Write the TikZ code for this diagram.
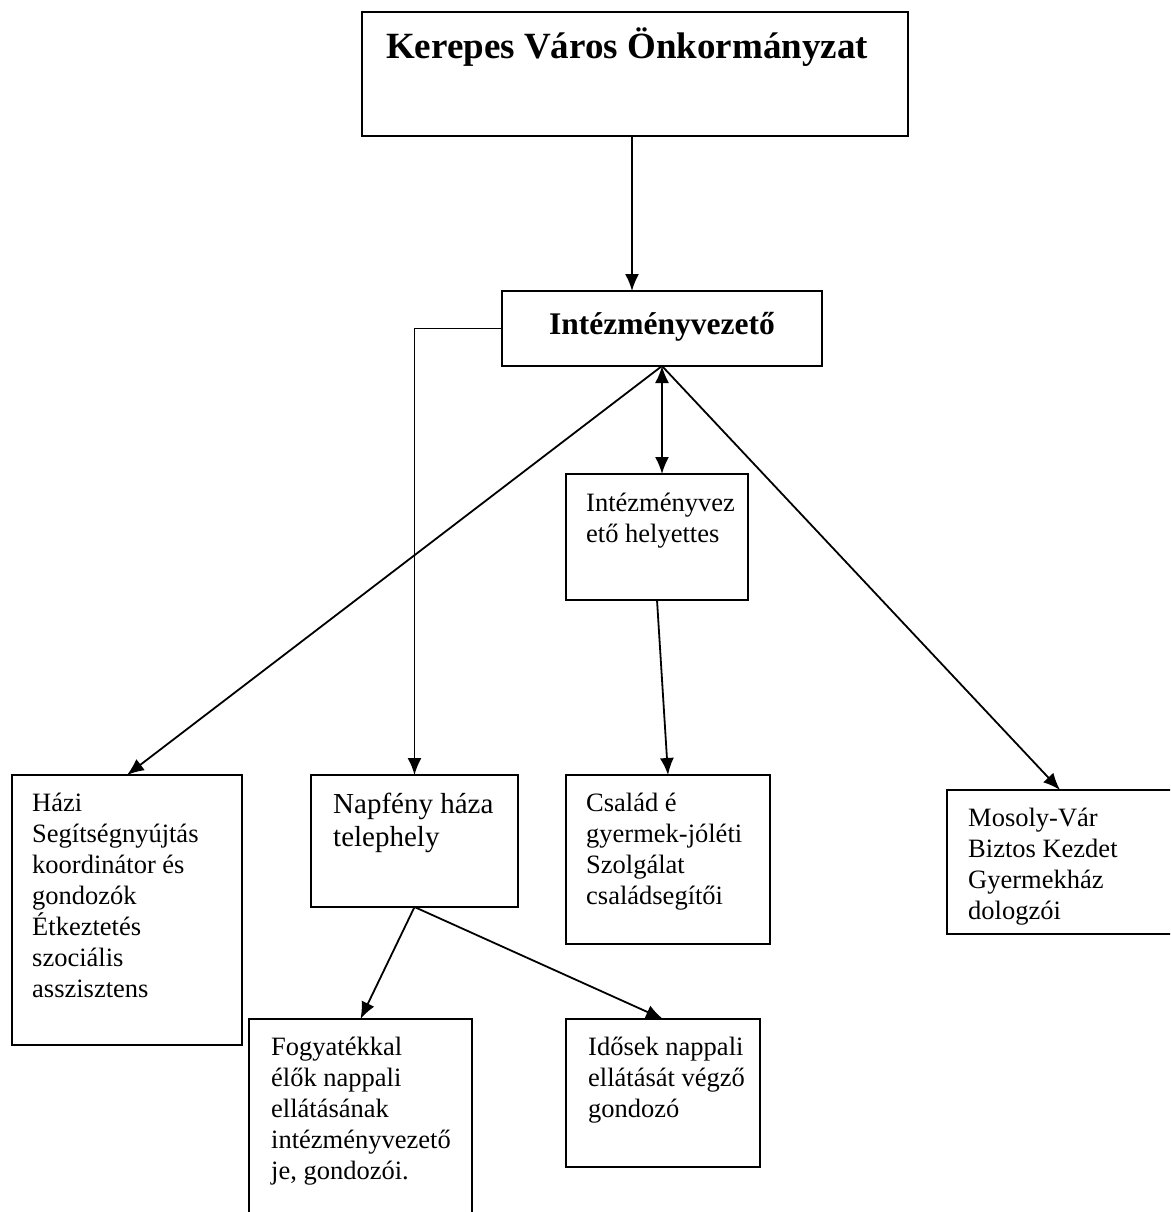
\documentclass[tikz,border=0pt]{standalone}
\usepackage{fontspec}
\setmainfont{Liberation Serif}
\usetikzlibrary{arrows.meta}
\tikzset{
  box/.style={draw, line width=2pt, inner sep=0pt, outer sep=0pt, anchor=north west},
  txt/.style={anchor=base west, align=left, inner sep=0pt, font=\fontsize{26.5}{31}\selectfont},
  conn/.style={line width=1.8pt, -{Latex[length=17pt,width=14pt]}},
}
\begin{document}
\begin{tikzpicture}[x=1pt,y=-1pt]
\clip (0,0) rectangle (1170,1212);
\fill[white] (0,0) rectangle (1170,1212);
% boxes
\node[box, minimum width=546pt, minimum height=124pt] (top) at (362,12) {};
\node[box, minimum width=320pt, minimum height=75pt] (iv) at (502,291) {};
\node[box, minimum width=182pt, minimum height=126pt] (hely) at (566,474) {};
\node[box, minimum width=230pt, minimum height=270pt] (hazi) at (12,775) {};
\node[box, minimum width=207pt, minimum height=132pt] (nap) at (311,775) {};
\node[box, minimum width=204pt, minimum height=169pt] (csal) at (566,775) {};
\node[box, minimum width=226pt, minimum height=144pt] (mos) at (947,790) {};
\node[box, minimum width=223pt, minimum height=200pt] (fogy) at (249,1019) {};
\node[box, minimum width=194pt, minimum height=148pt] (ido) at (566,1019) {};
% texts (anchor = baseline of last line)
\node[txt, font=\fontsize{37}{40}\selectfont\bfseries] (ttop) at (386,59) {Kerepes Város Önkormányzat};
\node[txt, font=\fontsize{31.5}{34}\selectfont\bfseries] (tiv) at (549,334) {Intézményvezető};
\node[txt] (thely) at (586,542) {Intézményvez\\ető helyettes};
\node[txt] (thazi) at (32,997) {Házi\\Segítségnyújtás\\koordinátor és\\gondozók\\Étkeztetés\\szociális\\asszisztens};
\node[txt, font=\fontsize{29}{33}\selectfont] (tnap) at (333,846) {Napfény háza\\telephely};
\node[txt] (tcsal) at (586,904) {Család é\\gyermek-jóléti\\Szolgálat\\családsegítői};
\node[txt] (tmos) at (968,919) {Mosoly-Vár\\Biztos Kezdet\\Gyermekház\\dologzói};
\node[txt] (tfogy) at (271,1179) {Fogyatékkal\\élők nappali\\ellátásának\\intézményvezető\\je, gondozói.};
\node[txt] (tido) at (588,1117) {Idősek nappali\\ellátását végző\\gondozó};
% connectors
\coordinate (cx) at (632,0);
\draw[conn] (top.south -| cx) -- (iv.north -| cx);
\draw[conn] (iv.west) -| (nap.north);
\draw[conn, {Latex[length=17pt,width=14pt]}-{Latex[length=17pt,width=14pt]}] (iv.south) -- (hely.north -| iv.south);
\draw[conn] (iv.south) -- (hazi.north);
\draw[conn] (iv.south) -- (mos.north);
\draw[conn] (hely.south) -- (csal.north);
\draw[conn] (nap.south) -- (fogy.north);
\draw[conn] (nap.south) -- (ido.north);
\end{tikzpicture}
\end{document}
